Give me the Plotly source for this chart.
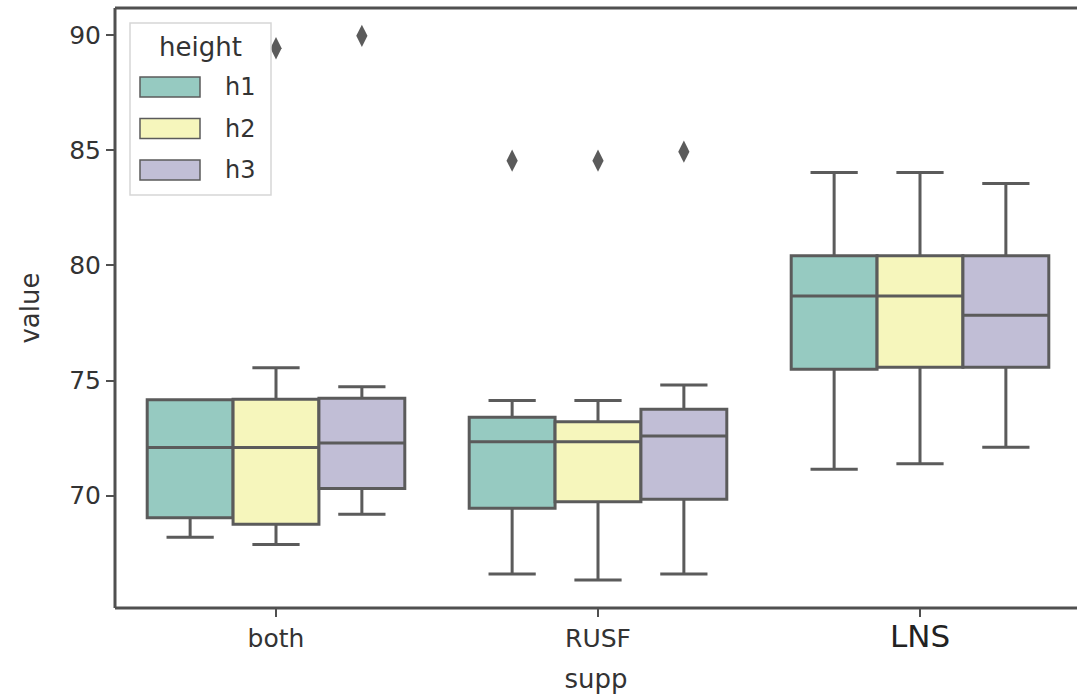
import plotly.graph_objects as go

# ---- data -------------------------------------------------------------
categories = ["both", "RUSF", "LNS"]
heights = ["h1", "h2", "h3"]

# five-number summaries per height group, one entry per supp category
q1 = {
    "h1": [69.04, 69.45, 75.49],
    "h2": [68.76, 69.74, 75.58],
    "h3": [70.31, 69.84, 75.58],
}
median = {
    "h1": [72.09, 72.34, 78.67],
    "h2": [72.09, 72.34, 78.67],
    "h3": [72.29, 72.59, 77.83],
}
q3 = {
    "h1": [74.16, 73.40, 80.42],
    "h2": [74.19, 73.21, 80.42],
    "h3": [74.23, 73.75, 80.42],
}
lower_whisker = {
    "h1": [68.19, 66.60, 71.15],
    "h2": [67.88, 66.34, 71.38],
    "h3": [69.19, 66.60, 72.10],
}
upper_whisker = {
    "h1": [74.16, 74.13, 84.03],
    "h2": [75.55, 74.13, 84.03],
    "h3": [74.73, 74.81, 83.56],
}
# outliers: (category, value)
outliers = {
    "h1": [("RUSF", 84.55)],
    "h2": [("both", 89.43), ("RUSF", 84.55)],
    "h3": [("both", 89.97), ("RUSF", 84.94)],
}

# seaborn Set3 palette, desaturated to 0.75
colors = {"h1": "#96cac1", "h2": "#f6f6bc", "h3": "#c1bed6"}
edge = "#5b5b5b"
spine = "#505050"
text_color = "#333333"

# ---- geometry -----------------------------------------------------------
W, H = 1077, 697
L_PX, T_PX, B_PX = 115, 8, 608          # plot area edges in pixels
R_PX = W
unit_px = 322.0                           # pixels per category
x_range = [-0.5, -0.5 + (R_PX - L_PX) / unit_px]
y_range = [65.12, 91.18]

group_width = 0.8
box_w = group_width / len(heights)


def hue_offset(i):
    return (i - (len(heights) - 1) / 2) * box_w


fig = go.Figure()

for hi, h in enumerate(heights):
    for ci, cat in enumerate(categories):
        fig.add_trace(go.Box(
            x=[ci + hue_offset(hi)],
            q1=[q1[h][ci]],
            median=[median[h][ci]],
            q3=[q3[h][ci]],
            lowerfence=[lower_whisker[h][ci]],
            upperfence=[upper_whisker[h][ci]],
            width=box_w,
            whiskerwidth=0.55,
            fillcolor=colors[h],
            line=dict(color=edge, width=3),
            boxpoints=False,
            showlegend=False,
            name=h,
        ))
    if outliers[h]:
        fig.add_trace(go.Scatter(
            x=[categories.index(c) + hue_offset(hi) for c, _ in outliers[h]],
            y=[v for _, v in outliers[h]],
            mode="markers",
            marker=dict(symbol="diamond-tall", size=16, color=edge,
                        line=dict(width=0)),
            showlegend=False,
            hoverinfo="y",
        ))

# ---- manual legend (wide swatches like matplotlib) ---------------------


def px_x(p):
    return (p - L_PX) / (R_PX - L_PX)


def px_y(p):
    return (B_PX - p) / (B_PX - T_PX)


shapes = []
annotations = []

# spines: left, bottom, top (the right one falls outside the view)
for x0, y0, x1, y1 in [(0, 0, 0, 1), (0, 0, 1, 0), (0, 1, 1, 1)]:
    shapes.append(dict(
        type="line", xref="paper", yref="paper",
        x0=x0, x1=x1, y0=y0, y1=y1,
        line=dict(color=spine, width=3), layer="above",
    ))

# legend frame
shapes.append(dict(
    type="rect", xref="paper", yref="paper",
    x0=px_x(130), x1=px_x(271), y0=px_y(195), y1=px_y(23),
    fillcolor="rgba(255,255,255,0.85)",
    line=dict(color="#d6d6d6", width=1.5), layer="above",
))
annotations.append(dict(
    xref="paper", yref="paper", x=px_x(200), y=px_y(47),
    text="height", showarrow=False, xanchor="center", yanchor="middle",
    font=dict(size=26, color=text_color, family="DejaVu Sans"),
))
for i, h in enumerate(heights):
    cy = 87 + i * 41.5
    shapes.append(dict(
        type="rect", xref="paper", yref="paper",
        x0=px_x(140), x1=px_x(200), y0=px_y(cy + 10), y1=px_y(cy - 10),
        fillcolor=colors[h], line=dict(color=edge, width=1.5), layer="above",
    ))
    annotations.append(dict(
        xref="paper", yref="paper", x=px_x(223), y=px_y(cy),
        text=h, showarrow=False, xanchor="left", yanchor="middle",
        font=dict(size=24, color=text_color, family="DejaVu Sans"),
    ))

tick_text = [c if c != "LNS" else
             '<span style="font-size:31px;color:#222">LNS</span>'
             for c in categories]

fig.update_layout(
    width=W, height=H,
    margin=dict(l=L_PX, r=W - R_PX, t=T_PX, b=H - B_PX, pad=0),
    paper_bgcolor="white", plot_bgcolor="white",
    boxmode="overlay",
    showlegend=False,
    font=dict(family="DejaVu Sans", color=text_color),
    shapes=shapes,
    annotations=annotations,
    xaxis=dict(
        range=x_range, tickmode="array",
        tickvals=list(range(len(categories))), ticktext=tick_text,
        showgrid=False, zeroline=False, showline=False,
        ticks="outside", ticklen=8, tickwidth=2, tickcolor=spine,
        tickfont=dict(size=25, color=text_color),
        title=dict(text="supp", font=dict(size=26, color=text_color), standoff=16),
    ),
    yaxis=dict(
        range=y_range, tickvals=[70, 75, 80, 85, 90],
        showgrid=False, zeroline=False, showline=False,
        ticks="outside", ticklen=8, tickwidth=2, tickcolor=spine,
        tickfont=dict(size=25, color=text_color),
        title=dict(text="value", font=dict(size=26, color=text_color), standoff=22),
    ),
)

fig.write_html("out.html")
